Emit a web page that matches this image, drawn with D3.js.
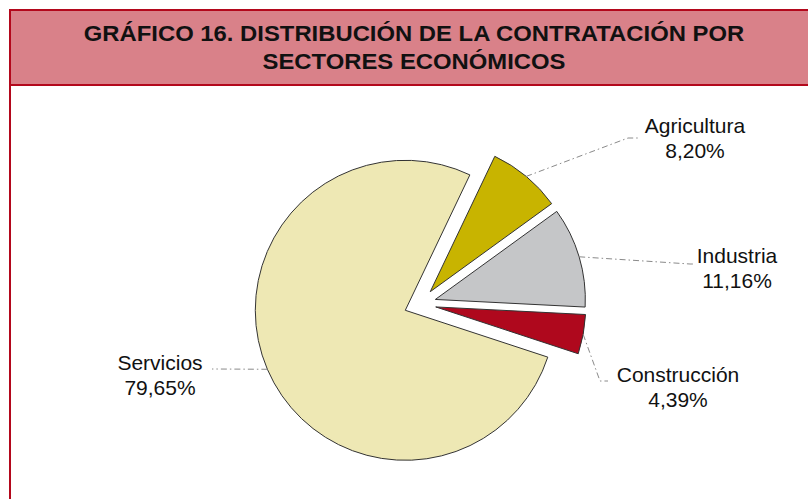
<!DOCTYPE html>
<html>
<head>
<meta charset="utf-8">
<script src="https://cdn.jsdelivr.net/npm/d3@7"></script>
<style>
  html, body { margin: 0; padding: 0; background: #fff; }
  svg { display: block; font-family: "Liberation Sans", Arial, sans-serif; }
</style>
</head>
<body>
<div id="chart"></div>
<script>
const width = 808;
const height = 499;

// data
const sectors = ["Agricultura", "Industria", "Construcción", "Servicios"];
const shares = [8.20, 11.16, 4.39, 79.65];
const shareLabels = ["8,20%", "11,16%", "4,39%", "79,65%"];
const colors = ["#c8b400", "#c5c6c8", "#af081d", "#eee8b4"];
const titleLines = ["GRÁFICO 16. DISTRIBUCIÓN DE LA CONTRATACIÓN POR", "SECTORES ECONÓMICOS"];

// layout for labels and leader lines (text block centre x, first baseline y, elbow, end x)
const labelPos = [
	{x: 695, y: 133, ex: 628, ey: 138, endX: 640},
	{x: 737, y: 263, ex: 690, ey: 264, endX: 693},
	{x: 678, y: 382, ex: 600, ey: 381, endX: 608},
	{x: 160, y: 370, ex: 214, ey: 369, endX: 212}
];

const cx = 420, cy = 304;
const radius = 150;
const explode = 16;
const deg = Math.PI / 180;
const startA = 25.5 * deg;

const data = sectors.map((s, i) => ({name: s, value: shares[i], label: shareLabels[i], color: colors[i], pos: labelPos[i]}));

let svg = d3.select("#chart").append("svg")
	.attr("width", width)
	.attr("height", height);

// frame
svg.append("rect")
	.attr("x", 10).attr("y", 10)
	.attr("width", 808).attr("height", 74)
	.attr("fill", "#d98189");
svg.append("rect")
	.attr("x", 10).attr("y", 10)
	.attr("width", 808).attr("height", 520)
	.attr("fill", "none")
	.attr("stroke", "#b3081c")
	.attr("stroke-width", 2);
svg.append("line")
	.attr("x1", 10).attr("x2", 820)
	.attr("y1", 85).attr("y2", 85)
	.attr("stroke", "#b3081c")
	.attr("stroke-width", 2);

// title
let title = svg.append("text")
	.attr("text-anchor", "middle")
	.attr("font-weight", "bold")
	.attr("font-size", 22.5)
	.attr("fill", "#111")
	.attr("transform", "translate(414,0) scale(1.06,1)");
title.selectAll("tspan")
	.data(titleLines)
	.enter()
	.append("tspan")
	.attr("x", 0)
	.attr("y", (d, i) => 41.5 + i * 27.6)
	.text(d => d);

// pie
let pie = d3.pie()
	.sort(null)
	.value(d => d.value)
	.startAngle(startA)
	.endAngle(startA + 2 * Math.PI);
let arc = d3.arc().innerRadius(0).outerRadius(radius);
let arcs = pie(data);

function midAngle(d) { return (d.startAngle + d.endAngle) / 2; }
function offset(d, r) {
	let a = midAngle(d);
	return [Math.sin(a) * r, -Math.cos(a) * r];
}

let g = svg.append("g").attr("transform", "translate(" + cx + "," + cy + ")");

g.selectAll(".slice")
	.data(arcs)
	.enter()
	.append("path")
	.attr("class", "slice")
	.attr("transform", d => { let o = offset(d, explode); return "translate(" + o[0] + "," + o[1] + ")"; })
	.attr("d", arc)
	.attr("fill", d => d.data.color)
	.attr("stroke", "#333")
	.attr("stroke-width", 1);

// leader lines
g.selectAll(".leader")
	.data(arcs)
	.enter()
	.append("path")
	.attr("class", "leader")
	.attr("fill", "none")
	.attr("stroke", "#8a8a8a")
	.attr("stroke-width", 1)
	.attr("stroke-dasharray", "6,3,1.5,3")
	.attr("d", d => {
		let o = offset(d, explode + radius);
		let p = d.data.pos;
		return "M" + o[0] + "," + o[1] + "L" + (p.ex - cx) + "," + (p.ey - cy) + "L" + (p.endX - cx) + "," + (p.ey - cy);
	});

// labels
let labels = svg.selectAll(".lbl")
	.data(arcs)
	.enter()
	.append("text")
	.attr("class", "lbl")
	.attr("text-anchor", "middle")
	.attr("font-size", 21)
	.attr("fill", "#111");
labels.append("tspan")
	.attr("x", d => d.data.pos.x)
	.attr("y", d => d.data.pos.y)
	.text(d => d.data.name);
labels.append("tspan")
	.attr("x", d => d.data.pos.x)
	.attr("y", d => d.data.pos.y + 24.5)
	.text(d => d.data.label);
</script>
</body>
</html>
